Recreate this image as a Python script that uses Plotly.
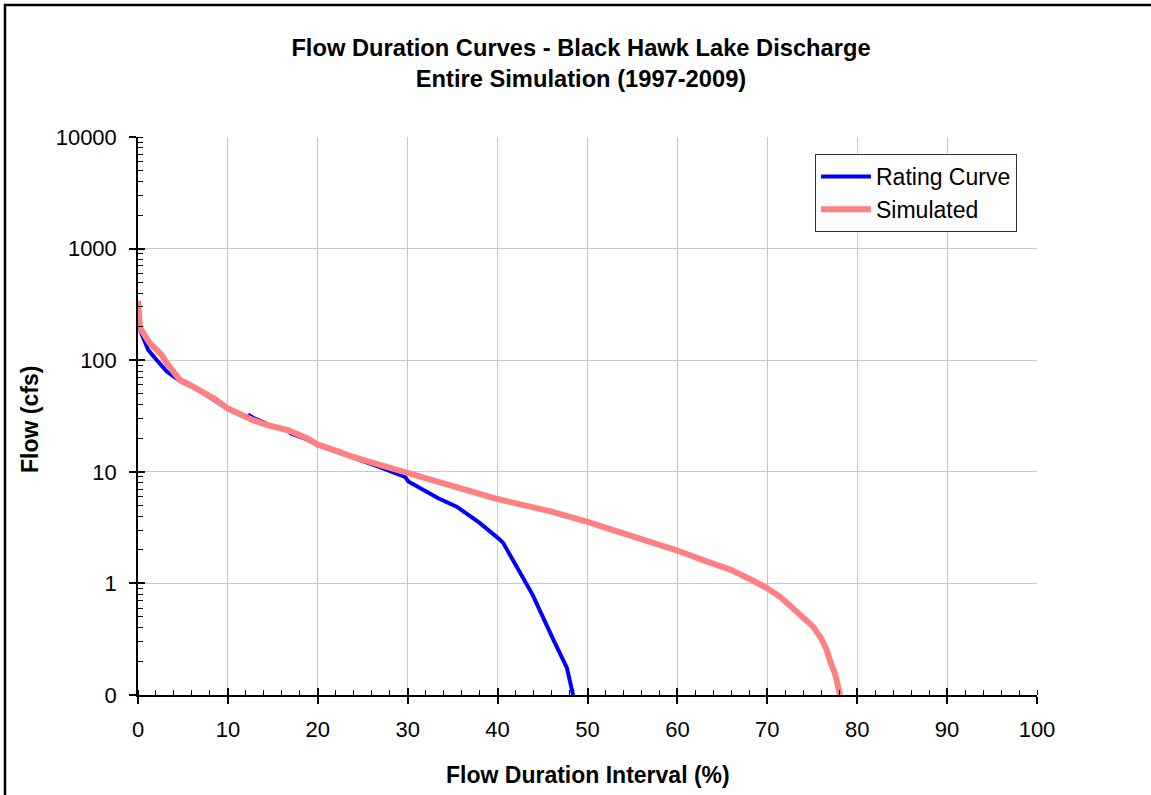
import plotly.graph_objects as go

# Flow duration interval (%) and flow (cfs)
sim_x = [0.0, 0.1, 0.2, 0.4, 0.8, 1.3, 1.8, 2.2, 2.6, 3.2, 4.0, 4.7, 5.8, 6.9, 8.5, 10.0,
         11.5, 12.8, 14.5, 16.6, 18.8, 20.0, 22.0, 24.0, 27.0, 30.0, 33.0, 36.0, 40.0,
         43.0, 46.0, 50.0, 53.6, 57.0, 60.0, 63.0, 66.0, 68.0, 70.0, 71.5, 72.9, 74.0,
         75.1, 76.0, 76.6, 77.0, 77.5, 78.1]
sim_y = [340, 250, 205, 185, 160, 142, 130, 123, 112, 94, 78, 66, 60, 54, 45, 37,
         32, 29, 26, 23.7, 20, 17.5, 15.5, 13.5, 11.5, 9.75, 8.3, 7.1, 5.7,
         5.0, 4.4, 3.55, 2.9, 2.4, 1.97, 1.6, 1.32, 1.1, 0.905, 0.75, 0.6, 0.5,
         0.41, 0.32, 0.254, 0.2, 0.158, 0.1]

rat_x = [0.0, 0.3, 0.7, 1.15, 2.1, 3.2, 4.7, 6.9, 10.0, 12.0, 12.4, 12.8, 14.5, 16.2,
         16.6, 17.0, 18.8, 20.0, 22.0, 24.0, 26.9, 29.7, 30.07, 33.4, 35.45, 38.0,
         40.3, 40.6, 41.7, 43.9, 46.2, 47.7, 48.4]
rat_y = [250, 180, 150, 123, 100, 79, 65, 53, 36.5, 30.5, 32, 30.5, 26.5, 24,
         23.8, 22, 19.5, 17.3, 15.3, 13.3, 11.0, 9.0, 8.2, 5.8, 4.87, 3.48,
         2.45, 2.32, 1.62, 0.79, 0.314, 0.176, 0.1]

x_ticks = [0, 10, 20, 30, 40, 50, 60, 70, 80, 90, 100]
y_ticks = [0.1, 1, 10, 100, 1000, 10000]
y_ticktext = ["0", "1", "10", "100", "1000", "10000"]

FONT = "Arial, 'Liberation Sans', sans-serif"

fig = go.Figure()
fig.add_trace(go.Scatter(x=rat_x, y=rat_y, mode="lines", name="Rating Curve",
                         line=dict(color="#0000FF", width=4)))
fig.add_trace(go.Scatter(x=sim_x, y=sim_y, mode="lines", name="Simulated",
                         line=dict(color="#FF8080", width=6)))

grid = "#C8C8C8"
fig.update_layout(
    width=1151, height=795,
    margin=dict(l=138, r=114, t=137, b=100),
    paper_bgcolor="white", plot_bgcolor="white",
    font=dict(family=FONT, size=22, color="black"),
    title=dict(text="<b>Flow Duration Curves - Black Hawk Lake Discharge<br>Entire Simulation (1997-2009)</b>",
               xref="container", x=581/1151, xanchor="center",
               yref="container", y=1-56/795, yanchor="middle",
               font=dict(family=FONT, size=23.7, color="black")),
    xaxis=dict(range=[0, 100], tickvals=x_ticks, showgrid=True, gridcolor=grid, gridwidth=1,
               showline=True, linecolor="black", linewidth=1.5,
               ticks="outside", ticklen=7, tickcolor="black", tickwidth=1.5,
               ticklabelstandoff=7, zeroline=False,
               minor=dict(dtick=2, ticks="inside", ticklen=5, tickcolor="black", tickwidth=1, showgrid=False)),
    yaxis=dict(type="log", range=[-1, 4], tickvals=y_ticks, ticktext=y_ticktext,
               showgrid=True, gridcolor=grid, gridwidth=1,
               showline=True, linecolor="black", linewidth=1.5,
               ticks="outside", ticklen=7, tickcolor="black", tickwidth=1.5,
               ticklabelstandoff=8, zeroline=False,
               minor=dict(dtick="D1", ticks="inside", ticklen=5, tickcolor="black", tickwidth=1, showgrid=False)),
    xaxis2=dict(range=[0, 100], overlaying="x", anchor="y", side="bottom",
                tickvals=x_ticks, ticks="inside", ticklen=7, tickcolor="black", tickwidth=1.5,
                showticklabels=False, showgrid=False, showline=False, zeroline=False),
    yaxis2=dict(type="log", range=[-1, 4], overlaying="y", anchor="x", side="left",
                tickvals=y_ticks, ticks="inside", ticklen=7, tickcolor="black", tickwidth=1.5,
                showticklabels=False, showgrid=False, showline=False, zeroline=False),
    legend=dict(x=(1017-138)/899, xanchor="right", y=(695-154)/558, yanchor="top",
                bgcolor="white", bordercolor="#333333", borderwidth=1,
                font=dict(family=FONT, size=23, color="black"),
                tracegroupgap=0, itemwidth=50),
    annotations=[
        dict(text="<b>Flow Duration Interval (%)</b>", xref="paper", yref="paper",
             x=(587.5-138)/899, y=(695-775)/558, xanchor="center", yanchor="middle",
             showarrow=False, font=dict(family=FONT, size=23, color="black")),
        dict(text="<b>Flow (cfs)</b>", xref="paper", yref="paper", textangle=-90,
             x=(30-138)/899, y=(695-420)/558, xanchor="center", yanchor="middle",
             showarrow=False, font=dict(family=FONT, size=23, color="black")),
    ],
    shapes=[dict(type="rect", xref="paper", yref="paper",
                 x0=(5-138)/899, x1=(1170-138)/899, y0=(695-820)/558, y1=(695-5)/558,
                 line=dict(color="black", width=2.5), fillcolor="rgba(0,0,0,0)", layer="below")],
)
# invisible placeholder so overlay axes render
fig.add_trace(go.Scatter(x=[None], y=[None], xaxis="x2", yaxis="y2", showlegend=False, hoverinfo="skip"))

fig.write_html("out.html", config={"displayModeBar": False},
               post_script="document.body.style.margin='0px';")
